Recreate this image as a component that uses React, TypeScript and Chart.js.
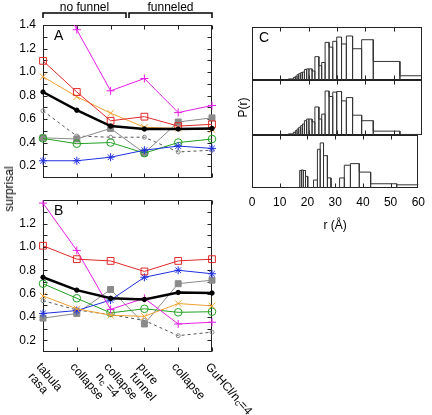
import React, { useEffect, useRef } from 'react';
import { Chart, registerables } from 'chart.js';

Chart.register(...registerables);

const FONT = "'Liberation Sans', Arial, Helvetica, sans-serif";
Chart.defaults.font.family = FONT;
Chart.defaults.font.size = 12;
Chart.defaults.color = '#000';

// ---------- data ----------
const categories = ['tabula rasa', 'collapse', 'collapse n_c=4', 'pure funnel', 'collapse', 'GuHCl/n_c=4'];
const categoryLines = [['tabula', 'rasa'], ['collapse'], ['collapse', 'n_c =4'], ['pure', 'funnel'], ['collapse'], ['GuHCl/n_c=4']];
const groupLabels = ['no funnel', 'funneled'];

const yTickLabelsA = [0.2, 0.4, 0.6, 0.8, 1.0, 1.2, 1.4];
const yTickLabelsB = [0.2, 0.4, 0.6, 0.8, 1.0, 1.2];
const yMinorTicks = [0.2, 0.3, 0.4, 0.5, 0.6, 0.7, 0.8, 0.9, 1.0, 1.1, 1.2, 1.3];

// Panel A
const aBlack = [0.83, 0.675, 0.54, 0.515, 0.515, 0.52];
const aRed = [1.095, 0.83, 0.585, 0.62, 0.54, 0.555];
const aMagenta = [1.9, 1.36, 0.84, 0.945, 0.655, 0.715];
const aOrange = [0.96, 0.79, 0.65, 0.53, 0.52, 0.51];
const aBlue = [0.245, 0.245, 0.275, 0.335, 0.37, 0.35];
const aGreen = [0.435, 0.39, 0.4, 0.31, 0.4, 0.43];
const aGray = [0.44, 0.43, 0.52, 0.31, 0.575, 0.61];
const aDashed = [0.67, 0.455, 0.445, 0.445, 0.32, 0.335];

// Panel B
const bBlack = [0.74, 0.63, 0.56, 0.55, 0.61, 0.605];
const bRed = [1.01, 0.895, 0.88, 0.79, 0.88, 0.895];
const bMagenta = [1.375, 0.97, 0.465, 0.56, 0.34, 0.355];
const bOrange = [0.58, 0.47, 0.415, 0.405, 0.515, 0.495];
const bBlue = [0.43, 0.455, 0.545, 0.74, 0.8, 0.77];
const bGreen = [0.685, 0.56, 0.435, 0.47, 0.44, 0.445];
const bGray = [0.39, 0.43, 0.635, 0.34, 0.685, 0.715];
const bDashed = [0.54, 0.46, 0.42, 0.37, 0.24, 0.27];

// Panel C (histograms P(r))
const binEdges = [12.8, 14.6, 15.3, 15.9, 16.5, 17.2, 17.8, 18.5, 19.3, 20.1, 21.2, 22.2, 23.6, 24.6, 25.8, 27.2, 28.5, 29.9, 31.6, 33.3, 35.5, 38.7, 42.8, 52.2, 60.5];
const pTop = [0.02, 0.05, 0.07, 0.1, 0.12, 0.14, 0.15, 0.2, 0.21, 0.21, 0.17, 0.44, 0.27, 0.33, 0.71, 0.62, 0.73, 0.81, 0.68, 0.83, 0.59, 0.76, 0.35, 0.08];
const pMid = [0.02, 0.05, 0.08, 0.11, 0.14, 0.17, 0.2, 0.26, 0.29, 0.29, 0.24, 0.51, 0.29, 0.38, 0.8, 0.7, 0.78, 0.79, 0.62, 0.68, 0.36, 0.26, 0.07, 0.01];
const pBot = [0, 0, 0, 0, 0, 0.33, 0.34, 0.33, 0.22, 0, 0, 0.15, 0.73, 0.85, 0.61, 0.19, 0, 0, 0.19, 0.43, 0.46, 0.3, 0.08, 0.06];
const rTicks = [0, 10, 20, 30, 40, 50, 60];
const rInnerTicks = [10, 20, 30, 40, 50];

// ---------- helpers ----------
function histPoints(edges: number[], h: number[]) {
  const pts: { x: number; y: number }[] = [];
  h.forEach((v, i) => {
    pts.push({ x: edges[i], y: 0 }, { x: edges[i], y: v }, { x: edges[i + 1], y: v }, { x: edges[i + 1], y: 0 });
  });
  return pts;
}

function drawRich(ctx: CanvasRenderingContext2D, text: string, x: number, y: number) {
  const parts = text.split(/_(\w)/);
  let cx = x;
  parts.forEach((p, i) => {
    if (!p) return;
    const sub = i % 2 === 1;
    ctx.font = `${sub ? 9 : 12}px ${FONT}`;
    ctx.fillText(p, cx, y + (sub ? 4 : 0));
    cx += ctx.measureText(p).width;
  });
}

function framePlugin(xTicks: number[], yTicks: number[]) {
  return {
    id: 'frame',
    beforeDatasetsDraw(chart: any) {
      const { ctx, chartArea: a, scales } = chart;
      const L = 4;
      ctx.save();
      ctx.strokeStyle = '#222';
      ctx.lineWidth = 1;
      const l = Math.round(a.left) + 0.5, r = Math.round(a.right) - 0.5;
      const t = Math.round(a.top) + 0.5, b = Math.round(a.bottom) - 0.5;
      ctx.strokeRect(l, t, r - l, b - t);
      ctx.beginPath();
      xTicks.forEach((v) => {
        const x = Math.round(scales.x.getPixelForValue(v)) + 0.5;
        ctx.moveTo(x, t); ctx.lineTo(x, t + L);
        ctx.moveTo(x, b); ctx.lineTo(x, b - L);
      });
      yTicks.forEach((v) => {
        const y = Math.round(scales.y.getPixelForValue(v)) + 0.5;
        ctx.moveTo(l, y); ctx.lineTo(l + L, y);
        ctx.moveTo(r, y); ctx.lineTo(r - L, y);
      });
      ctx.stroke();
      ctx.restore();
    },
  };
}

function letterPlugin(letter: string, dx: number, dy: number) {
  return {
    id: 'letter',
    afterDatasetsDraw(chart: any) {
      const { ctx, chartArea: a } = chart;
      ctx.save();
      ctx.font = `14px ${FONT}`;
      ctx.fillStyle = '#000';
      ctx.textBaseline = 'alphabetic';
      ctx.textAlign = 'left';
      ctx.fillText(letter, a.left + dx, a.top + dy);
      ctx.restore();
    },
  };
}

const bracketPlugin = {
  id: 'brackets',
  afterDraw(chart: any) {
    const { ctx, scales } = chart;
    const p = (i: number) => scales.x.getPixelForValue(i);
    const mid = (p(2) + p(3)) / 2;
    const spans = [[p(0), mid - 1.5], [mid + 1.5, p(5)]];
    ctx.save();
    ctx.strokeStyle = '#000';
    ctx.lineWidth = 1.5;
    ctx.fillStyle = '#000';
    ctx.font = `12px ${FONT}`;
    ctx.textAlign = 'center';
    ctx.textBaseline = 'alphabetic';
    spans.forEach(([l, r], k) => {
      ctx.beginPath();
      ctx.moveTo(l, 18); ctx.lineTo(l, 13); ctx.lineTo(r, 13); ctx.lineTo(r, 18);
      ctx.stroke();
      ctx.fillText(groupLabels[k], (l + r) / 2, 10.5);
    });
    ctx.restore();
  },
};

const categoryLabelPlugin = {
  id: 'catLabels',
  afterDraw(chart: any) {
    const { ctx, chartArea: a, scales } = chart;
    const ang = (49 * Math.PI) / 180;
    ctx.save();
    ctx.fillStyle = '#000';
    ctx.textAlign = 'left';
    ctx.textBaseline = 'top';
    categoryLines.forEach((lines, i) => {
      const px = scales.x.getPixelForValue(i);
      ctx.save();
      ctx.translate(px, a.bottom + 9);
      ctx.rotate(ang);
      lines.forEach((ln, li) => drawRich(ctx, ln, li ? 2 : 0, li * 12.5));
      ctx.restore();
    });
    ctx.restore();
  },
};

function series(data: number[], color: string, pointStyle: string, radius: number, fillPt: string, width = 1, dash: number[] = []) {
  return {
    data,
    borderColor: color,
    backgroundColor: fillPt,
    borderWidth: width,
    borderDash: dash,
    pointStyle,
    pointRadius: radius,
    pointBorderColor: color,
    pointBackgroundColor: fillPt,
    pointBorderWidth: 1,
    tension: 0,
    fill: false,
    clip: { left: 8, right: 8, top: 0, bottom: 8 },
  };
}

const NONE = 'rgba(0,0,0,0)';
const RED = '#e02828';
const MAGENTA = '#e61ee6';
const ORANGE = '#f0a030';
const BLUE = '#2030e0';
const GREEN = '#22a022';
const GRAY = '#8a8a8a';

function panelDatasets(k: number[], r: number[], m: number[], o: number[], bl: number[], g: number[], gr: number[], d: number[]) {
  return [
    series(k, '#000', 'circle', 2.2, '#000', 2.5),
    series(r, RED, 'rect', 4.8, NONE),
    series(m, MAGENTA, 'cross', 4, NONE),
    series(o, ORANGE, 'crossRot', 4.5, NONE),
    series(bl, BLUE, 'star', 4, NONE),
    series(g, GREEN, 'circle', 3.8, NONE),
    series(gr, GRAY, 'rect', 4.2, GRAY),
    { ...series(d, '#555', 'circle', 2, NONE, 1, [3, 3]), pointBorderColor: '#888' },
  ];
}

function yScale(labels: number[]) {
  return {
    min: 0.1,
    max: 1.4,
    afterBuildTicks: (s: any) => {
      s.ticks = labels.map((v) => ({ value: v }));
    },
    afterFit: (s: any) => {
      s.width = 43;
    },
    ticks: { padding: 7, color: '#000', font: { size: 12 }, callback: (v: any) => Number(v).toFixed(1) },
    grid: { display: false, drawTicks: false },
    border: { display: false },
  };
}

const baseOpts = {
  responsive: false,
  animation: false as const,
  events: [] as any[],
  plugins: { legend: { display: false }, tooltip: { enabled: false } },
};

export default function App() {
  const aRef = useRef<HTMLCanvasElement>(null);
  const bRef = useRef<HTMLCanvasElement>(null);
  const c1Ref = useRef<HTMLCanvasElement>(null);
  const c2Ref = useRef<HTMLCanvasElement>(null);
  const c3Ref = useRef<HTMLCanvasElement>(null);

  useEffect(() => {
    const charts: Chart[] = [];
    charts.push(
      new Chart(aRef.current!, {
        type: 'line',
        data: { labels: categories, datasets: panelDatasets(aBlack, aRed, aMagenta, aOrange, aBlue, aGreen, aGray, aDashed) as any },
        options: {
          ...baseOpts,
          layout: { padding: { top: 25, right: 10, bottom: 4, left: 0 } },
          scales: { x: { type: 'category', offset: false, display: false }, y: yScale(yTickLabelsA) as any },
        } as any,
        plugins: [framePlugin([0, 1, 2, 3, 4, 5], yMinorTicks), letterPlugin('A', 11, 15), bracketPlugin],
      })
    );
    charts.push(
      new Chart(bRef.current!, {
        type: 'line',
        data: { labels: categories, datasets: panelDatasets(bBlack, bRed, bMagenta, bOrange, bBlue, bGreen, bGray, bDashed) as any },
        options: {
          ...baseOpts,
          layout: { padding: { top: 4, right: 58, bottom: 63, left: 0 } },
          scales: { x: { type: 'category', offset: false, display: false }, y: yScale(yTickLabelsB) as any },
        } as any,
        plugins: [framePlugin([0, 1, 2, 3, 4, 5], yMinorTicks), letterPlugin('B', 11, 15), categoryLabelPlugin],
      })
    );
    const hist = (h: number[]) => ({
      data: histPoints(binEdges, h),
      showLine: true,
      borderColor: '#333',
      borderWidth: 1,
      pointRadius: 0,
      tension: 0,
      fill: false,
    });
    const xHidden = { type: 'linear', min: 0, max: 60, display: false };
    const yHidden = { min: 0, max: 1, display: false };
    charts.push(
      new Chart(c1Ref.current!, {
        type: 'scatter',
        data: { datasets: [hist(pTop)] as any },
        options: {
          ...baseOpts,
          layout: { padding: { top: 27, right: 10, bottom: 4, left: 20 } },
          scales: { x: xHidden as any, y: yHidden },
        } as any,
        plugins: [framePlugin(rInnerTicks, []), letterPlugin('C', 7, 15)],
      })
    );
    charts.push(
      new Chart(c2Ref.current!, {
        type: 'scatter',
        data: { datasets: [hist(pMid)] as any },
        options: {
          ...baseOpts,
          layout: { padding: { top: 4, right: 10, bottom: 4, left: 0 } },
          scales: {
            x: xHidden as any,
            y: {
              min: 0,
              max: 1,
              display: true,
              afterFit: (s: any) => {
                s.width = 20;
              },
              ticks: { display: false },
              grid: { display: false, drawTicks: false },
              border: { display: false },
              title: { display: true, text: 'P(r)', color: '#000', font: { size: 12 }, padding: { top: 4, bottom: 0 } },
            },
          },
        } as any,
        plugins: [framePlugin(rInnerTicks, [])],
      })
    );
    charts.push(
      new Chart(c3Ref.current!, {
        type: 'scatter',
        data: { datasets: [hist(pBot)] as any },
        options: {
          ...baseOpts,
          layout: { padding: { top: 4, right: 10, bottom: 5, left: 20 } },
          scales: {
            x: {
              type: 'linear',
              min: 0,
              max: 60,
              afterBuildTicks: (s: any) => {
                s.ticks = rTicks.map((v) => ({ value: v }));
              },
              afterFit: (s: any) => {
                s.height = 50;
              },
              ticks: { padding: 7, color: '#000', font: { size: 12 }, maxRotation: 0 },
              grid: { display: false, drawTicks: false },
              border: { display: false },
              title: { display: true, text: 'r (Å)', color: '#000', font: { size: 12 }, padding: { top: 0, bottom: 5 } },
            },
            y: yHidden,
          },
        } as any,
        plugins: [framePlugin(rInnerTicks, [])],
      })
    );
    return () => charts.forEach((c) => c.destroy());
  }, []);

  const cv = (left: number, top: number, w: number, h: number): React.CSSProperties => ({
    position: 'absolute',
    left,
    top,
    width: w,
    height: h,
  });

  return (
    <div style={{ position: 'absolute', left: 0, top: 0, width: 432, height: 415, background: '#fff', overflow: 'hidden', fontFamily: FONT }}>
      <canvas ref={aRef} width={222} height={192} style={cv(0, 0, 222, 192)} />
      <canvas ref={c1Ref} width={200} height={84} style={cv(232, 0, 200, 84)} />
      <canvas ref={c2Ref} width={200} height={63} style={cv(232, 76, 200, 63)} />
      <canvas ref={c3Ref} width={200} height={112} style={cv(232, 131, 200, 112)} />
      <canvas ref={bRef} width={270} height={229} style={cv(0, 186, 270, 229)} />
      <div
        style={{
          position: 'absolute',
          left: 9,
          top: 189,
          transform: 'translate(-50%, -50%) rotate(-90deg)',
          fontSize: 12,
          whiteSpace: 'nowrap',
          color: '#000',
          lineHeight: '14px',
        }}
      >
        surprisal
      </div>
    </div>
  );
}
